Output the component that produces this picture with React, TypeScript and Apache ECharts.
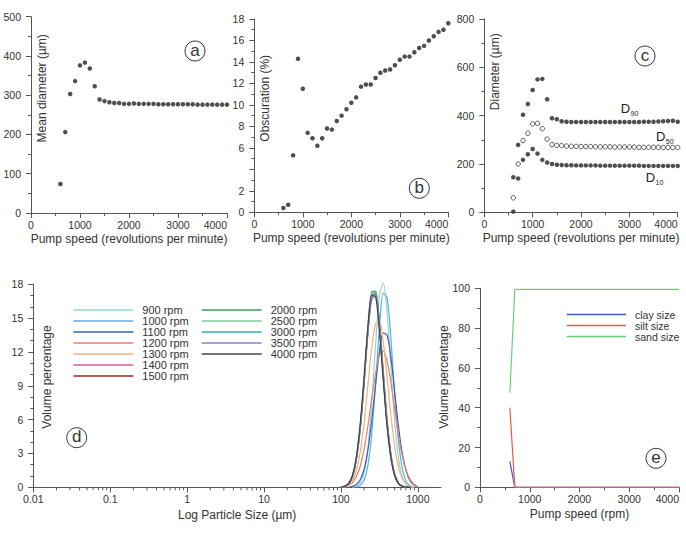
import React, { useEffect, useRef } from 'react';
import * as echarts from 'echarts';

// ---------- DATA ----------
const pumpSpeeds = [600, 700, 800, 900, 1000, 1100, 1200, 1300, 1400, 1500, 1600, 1700, 1800, 1900, 2000, 2100, 2200, 2300, 2400, 2500, 2600, 2700, 2800, 2900, 3000, 3100, 3200, 3300, 3400, 3500, 3600, 3700, 3800, 3900, 4000];

const meanDiameter = [74, 206, 303, 336, 376, 383, 368, 323, 289, 285, 282, 280, 280, 278, 278, 279, 278, 278, 278, 278, 277, 277, 277, 277, 277, 277, 277, 277, 276, 276, 276, 276, 276, 276, 276];

const obscuration = [0.4, 0.7, 5.3, 14.3, 11.5, 7.4, 6.9, 6.2, 6.9, 7.8, 7.7, 8.5, 9.0, 9.6, 10.2, 10.7, 11.7, 11.9, 11.9, 12.5, 13.0, 13.2, 13.3, 13.7, 14.2, 14.5, 14.5, 14.9, 15.3, 15.5, 16.0, 16.4, 16.8, 17.0, 17.6];

const d90 = [145, 279, 404, 448, 506, 550, 552, 468, 389, 385, 377, 375, 374, 374, 374, 374, 374, 374, 374, 374, 374, 374, 374, 374, 374, 374, 374, 375, 375, 375, 376, 377, 378, 379, 375];
const d50 = [60, 200, 297, 327, 366, 368, 346, 303, 280, 277, 276, 274, 273, 273, 272, 272, 272, 271, 271, 271, 271, 270, 270, 270, 270, 270, 269, 269, 269, 269, 269, 268, 268, 268, 268];
const d10 = [3, 140, 217, 240, 262, 243, 217, 206, 200, 197, 196, 195, 195, 194, 194, 194, 194, 194, 193, 193, 193, 193, 193, 193, 193, 193, 193, 192, 192, 192, 192, 192, 192, 192, 192];

const particleSizes = [100, 112, 126, 141, 158, 178, 200, 224, 251, 282, 316, 355, 398, 447, 501, 562, 631, 708, 794, 891, 1000];
const rpmNames = ['900 rpm', '1000 rpm', '1100 rpm', '1200 rpm', '1300 rpm', '1400 rpm', '1500 rpm', '2000 rpm', '2500 rpm', '3000 rpm', '3500 rpm', '4000 rpm'];
const vol900 = [null, null, null, 0, 0.1, 0.4, 1.3, 3.5, 7.5, 12.6, 16.9, 18.1, 15.5, 10.5, 5.7, 2.5, 0.85, 0.23, 0, null, null];
const vol1000 = [null, null, null, null, 0, 0.17, 0.64, 1.95, 4.7, 9.1, 14.0, 17.2, 16.8, 13.1, 8.1, 4.0, 1.6, 0.5, 0.13, 0, null];
const vol1100 = [null, null, 0, 0.08, 0.24, 0.67, 1.6, 3.3, 5.9, 9.1, 12.0, 13.7, 13.5, 11.5, 8.4, 5.3, 2.9, 1.4, 0.56, 0.19, 0];
const vol1200 = [null, 0, 0.16, 0.41, 0.93, 1.87, 3.36, 5.43, 7.83, 10.1, 11.7, 12.07, 11.2, 9.25, 6.85, 4.54, 2.69, 1.43, 0.68, 0.29, 0];
const vol1300 = [0, 0.06, 0.21, 0.6, 1.47, 3.12, 5.71, 9.04, 12.33, 14.5, 14.72, 12.89, 9.73, 6.34, 3.56, 1.72, 0.72, 0.26, 0.08, 0, null];
const vol1400 = [0.03, 0.1, 0.35, 1.0, 2.5, 5.3, 9.3, 13.6, 16.6, 17.0, 14.6, 10.4, 6.1, 3.0, 1.2, 0.4, 0.12, 0.03, 0, null, null];
const vol1500 = [0.02, 0.08, 0.3, 0.95, 2.4, 5.2, 9.3, 13.8, 16.9, 17.2, 14.4, 10.0, 5.8, 2.8, 1.1, 0.36, 0.1, 0.02, 0, null, null];
const vol2000 = [0.02, 0.08, 0.3, 0.95, 2.45, 5.3, 9.5, 14.1, 17.3, 17.4, 14.3, 9.8, 5.6, 2.7, 1.05, 0.34, 0.1, 0.02, 0, null, null];
const vol2500 = [0.02, 0.08, 0.29, 0.92, 2.4, 5.2, 9.3, 13.9, 17.1, 17.3, 14.4, 9.9, 5.7, 2.75, 1.08, 0.35, 0.1, 0.02, 0, null, null];
const vol3000 = [0.02, 0.07, 0.28, 0.9, 2.36, 5.1, 9.2, 13.7, 16.9, 17.2, 14.5, 10.1, 5.8, 2.8, 1.1, 0.36, 0.1, 0.02, 0, null, null];
const vol3500 = [0.02, 0.08, 0.3, 0.94, 2.44, 5.3, 9.4, 13.9, 17.0, 17.1, 14.3, 9.9, 5.7, 2.7, 1.05, 0.34, 0.1, 0.02, 0, null, null];
const vol4000 = [0.03, 0.1, 0.35, 1.05, 2.6, 5.6, 9.8, 14.2, 17.0, 16.9, 13.9, 9.5, 5.4, 2.55, 1.0, 0.3, 0.08, 0.02, 0, null, null];
const volumeCurves = [vol900, vol1000, vol1100, vol1200, vol1300, vol1400, vol1500, vol2000, vol2500, vol3000, vol3500, vol4000];
const logMinorTicks = [0.02, 0.03, 0.04, 0.05, 0.06, 0.07, 0.08, 0.09, 0.2, 0.3, 0.4, 0.5, 0.6, 0.7, 0.8, 0.9, 2, 3, 4, 5, 6, 7, 8, 9, 20, 30, 40, 50, 60, 70, 80, 90, 200, 300, 400, 500, 600, 700, 800, 900];

const fractionNames = ['clay size', 'silt size', 'sand size'];
const clayPct = [13, 0, 0, 0, 0, 0, 0, 0, 0, 0, 0, 0, 0, 0, 0, 0, 0, 0, 0, 0, 0, 0, 0, 0, 0, 0, 0, 0, 0, 0, 0, 0, 0, 0, 0];
const siltPct = [40, 0, 0, 0, 0, 0, 0, 0, 0, 0, 0, 0, 0, 0, 0, 0, 0, 0, 0, 0, 0, 0, 0, 0, 0, 0, 0, 0, 0, 0, 0, 0, 0, 0, 0];
const sandPct = [47.5, 99.5, 99.5, 99.5, 99.5, 99.5, 99.5, 99.5, 99.5, 99.5, 99.5, 99.5, 99.5, 99.5, 99.5, 99.5, 99.5, 99.5, 99.5, 99.5, 99.5, 99.5, 99.5, 99.5, 99.5, 99.5, 99.5, 99.5, 99.5, 99.5, 99.5, 99.5, 99.5, 99.5, 99.5];

// ---------- STYLE ----------
const FONT = "'Liberation Sans', Arial, Helvetica, sans-serif";
const AX = '#555';
const TXT = '#333';
const rpmColors = ['#93d6d8', '#5aaee0', '#3d5fae', '#e8806a', '#f5b27a', '#e8559e', '#962a2a', '#3f9a55', '#86cc92', '#2fb5a5', '#8a80c8', '#444444'];
const fractionColors = ['#3a5cc0', '#e85a50', '#6acf7a'];

const fmtInt = (v: number) => String(v);

function xAxisCfg(gridIndex: number, name: string, nameGap: number) {
  return {
    type: 'value', gridIndex, min: 0, max: 4000, interval: 1000,
    name, nameLocation: 'middle', nameGap,
    nameTextStyle: { fontSize: 12, color: TXT, fontFamily: FONT },
    axisLine: { show: true, onZero: false, lineStyle: { color: AX, width: 1 } },
    axisTick: { show: true, length: 5, lineStyle: { color: AX } },
    minorTick: { show: true, splitNumber: 2, length: 3, lineStyle: { color: AX } },
    splitLine: { show: false }, minorSplitLine: { show: false },
    axisLabel: { fontSize: 10.5, color: TXT, fontFamily: FONT, margin: 6, formatter: fmtInt, alignMaxLabel: 'right' },
  };
}

function yAxisCfg(gridIndex: number, max: number, interval: number, minorSplit: number, formatter?: (v: number) => string) {
  return {
    type: 'value', gridIndex, min: 0, max, interval,
    axisLine: { show: true, onZero: false, lineStyle: { color: AX, width: 1 } },
    axisTick: { show: true, length: 5, lineStyle: { color: AX } },
    minorTick: { show: true, splitNumber: minorSplit, length: 3, lineStyle: { color: AX } },
    splitLine: { show: false }, minorSplitLine: { show: false },
    axisLabel: { fontSize: 10.5, color: TXT, fontFamily: FONT, margin: 10, formatter: formatter || fmtInt },
  };
}

function rotText(text: string, x: number, y: number) {
  return {
    type: 'text', x, y, rotation: Math.PI / 2, silent: true,
    style: { text, fontSize: 12, fontFamily: FONT, fill: TXT, align: 'center', verticalAlign: 'middle', textAlign: 'center', textVerticalAlign: 'middle' },
  };
}

function circledLetter(letter: string, cx: number, cy: number) {
  return [
    { type: 'circle', silent: true, shape: { cx, cy, r: 10 }, style: { fill: 'none', stroke: '#333', lineWidth: 1 } },
    { type: 'text', silent: true, x: cx, y: cy - 1, style: { text: letter, fontSize: 17, fontFamily: FONT, fill: '#333', align: 'center', verticalAlign: 'middle', textAlign: 'center', textVerticalAlign: 'middle' } },
  ];
}

function plainText(text: string, x: number, y: number, size: number) {
  return { type: 'text', silent: true, x, y, style: { text, fontSize: size, fontFamily: FONT, fill: '#222', align: 'left', verticalAlign: 'middle', textAlign: 'left', textVerticalAlign: 'middle' } };
}

const pair = (xs: number[], ys: (number | null)[]) => xs.map((x, i) => [x, ys[i]]).filter((p) => p[1] !== null);

function buildOption() {
  const grids = [
    { left: 31, top: 16.7, width: 196, height: 196.3 },
    { left: 254.3, top: 19, width: 194, height: 193.3 },
    { left: 484.3, top: 19, width: 193.4, height: 193.3 },
    { left: 33.3, top: 284.3, width: 407.7, height: 203 },
    { left: 480, top: 288.3, width: 199, height: 199 },
  ].map((g) => ({ ...g, containLabel: false, outerBoundsMode: 'none' }));

  const logXAxis = {
    type: 'log', logBase: 10, gridIndex: 3, min: 0.01, max: 2000,
    name: 'Log Particle Size (µm)', nameLocation: 'middle', nameGap: 22,
    nameTextStyle: { fontSize: 12, color: TXT, fontFamily: FONT },
    axisLine: { show: true, onZero: false, lineStyle: { color: AX, width: 1 } },
    axisTick: { show: true, length: 5, lineStyle: { color: AX } },
    minorTick: { show: false },
    splitLine: { show: false },
    axisLabel: {
      fontSize: 10.5, color: TXT, fontFamily: FONT, margin: 6, showMaxLabel: false,
      formatter: (v: number) => (v < 1 ? String(parseFloat(v.toPrecision(2))) : String(Math.round(v))),
    },
  };

  const xAxis = [
    xAxisCfg(0, 'Pump speed (revolutions per minute)', 20),
    xAxisCfg(1, 'Pump speed (revolutions per minute)', 20),
    xAxisCfg(2, 'Pump speed (revolutions per minute)', 20),
    logXAxis,
    xAxisCfg(4, 'Pump speed (rpm)', 21),
  ];
  const yAxis = [
    yAxisCfg(0, 500, 100, 2),
    yAxisCfg(1, 18, 2, 2, (v: number) => (v === 4 ? '' : String(v))),
    yAxisCfg(2, 800, 200, 2),
    yAxisCfg(3, 18, 3, 3),
    yAxisCfg(4, 100, 20, 2),
  ];

  const dot = { type: 'scatter', symbol: 'circle', symbolSize: 4.5, clip: false, itemStyle: { color: '#222' } };

  const series: any[] = [
    { ...dot, name: 'Mean diameter', xAxisIndex: 0, yAxisIndex: 0, data: pair(pumpSpeeds, meanDiameter) },
    { ...dot, name: 'Obscuration', xAxisIndex: 1, yAxisIndex: 1, data: pair(pumpSpeeds, obscuration) },
    { ...dot, name: 'D90', xAxisIndex: 2, yAxisIndex: 2, data: pair(pumpSpeeds, d90) },
    { ...dot, name: 'D50', xAxisIndex: 2, yAxisIndex: 2, data: pair(pumpSpeeds, d50), symbolSize: 4.5, itemStyle: { color: '#fff', borderColor: '#222', borderWidth: 0.9 } },
    { ...dot, name: 'D10', xAxisIndex: 2, yAxisIndex: 2, data: pair(pumpSpeeds, d10) },
  ];

  volumeCurves.forEach((vals, i) => {
    series.push({
      type: 'line', name: rpmNames[i], xAxisIndex: 3, yAxisIndex: 3,
      data: pair(particleSizes, vals), symbol: 'none', showSymbol: false, smooth: 0.3,
      color: rpmColors[i], lineStyle: { width: 1.2, color: rpmColors[i] }, clip: false,
    });
  });

  series.push({
    type: 'custom', name: 'minor ticks', xAxisIndex: 3, yAxisIndex: 3, silent: true, clip: false,
    data: logMinorTicks.map((v) => [v, 0]),
    renderItem: (_p: any, api: any) => {
      const pt = api.coord([api.value(0), 0]);
      return { type: 'line', shape: { x1: pt[0], y1: pt[1], x2: pt[0], y2: pt[1] + 3 }, style: { stroke: AX, lineWidth: 1 } };
    },
  });

  [clayPct, siltPct, sandPct].forEach((vals, i) => {
    series.push({
      type: 'line', name: fractionNames[i], xAxisIndex: 4, yAxisIndex: 4,
      data: pair(pumpSpeeds, vals), symbol: 'none', showSymbol: false,
      color: fractionColors[i], lineStyle: { width: 1.2, color: fractionColors[i] }, clip: false,
    });
  });

  const legendBase = {
    orient: 'vertical', icon: 'rect', itemHeight: 1.6, padding: 0, selectedMode: false,
  };

  const legend = [
    { ...legendBase, data: rpmNames.slice(0, 7), left: 73.3, top: 304.5, itemWidth: 60, itemGap: 0, textStyle: { fontSize: 11, lineHeight: 11, color: TXT, fontFamily: FONT, padding: [0, 0, 0, 4] } },
    { ...legendBase, data: rpmNames.slice(7), left: 201.7, top: 304.5, itemWidth: 60, itemGap: 0, textStyle: { fontSize: 11, lineHeight: 11, color: TXT, fontFamily: FONT, padding: [0, 0, 0, 4] } },
    { ...legendBase, data: fractionNames, left: 566.7, top: 309, itemWidth: 59.3, itemGap: 0, textStyle: { fontSize: 10.5, lineHeight: 10.7, color: TXT, fontFamily: FONT, padding: [0, 0, 0, 4] } },
  ];

  const graphic = [
    rotText('Mean diameter (µm)', 41.7, 88.3),
    rotText('Obscuration (%)', 265, 98.3),
    rotText('Diameter (µm)', 495, 71.7),
    rotText('Volume percentage', 46.7, 377),
    rotText('Volume percentage', 444, 377),
    ...circledLetter('a', 195, 51),
    ...circledLetter('b', 419.3, 188.3),
    ...circledLetter('c', 645, 56),
    ...circledLetter('d', 76.7, 437.7),
    ...circledLetter('e', 656, 458.3),
    plainText('D', 620.7, 108.3, 13),
    plainText('90', 630.5, 113.5, 7),
    plainText('D', 656, 136.7, 13),
    plainText('50', 665.8, 141.9, 7),
    plainText('D', 645.7, 177.3, 13),
    plainText('10', 655.5, 182.5, 7),
  ];

  return {
    animation: false,
    backgroundColor: '#ffffff',
    textStyle: { fontFamily: FONT },
    grid: grids,
    xAxis,
    yAxis,
    legend,
    series,
    graphic: { elements: graphic },
  };
}

export default function App() {
  const ref = useRef<HTMLDivElement>(null);
  useEffect(() => {
    if (!ref.current) return;
    const chart = echarts.init(ref.current, null, { renderer: 'svg' });
    chart.setOption(buildOption() as any);
    return () => chart.dispose();
  }, []);
  return <div ref={ref} style={{ position: 'fixed', left: 0, top: 0, width: 686, height: 536, background: '#fff' }} />;
}
